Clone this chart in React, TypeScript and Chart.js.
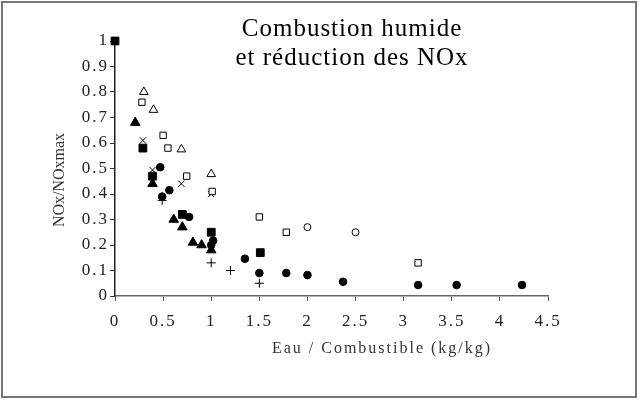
import React, { useEffect, useRef } from "react";
import { Chart, registerables } from "chart.js";

Chart.register(...registerables);

const titleLines = ["Combustion humide", "et réduction des NOx"];
const xTitle = "Eau / Combustible (kg/kg)";
const yTitle = "NOx/NOxmax";
const xTicks = [0, 0.5, 1, 1.5, 2, 2.5, 3, 3.5, 4, 4.5];
const yTicks = [0, 0.1, 0.2, 0.3, 0.4, 0.5, 0.6, 0.7, 0.8, 0.9, 1];

const filledSquareX = [0, 0.29, 0.39, 0.7, 1.0, 1.51];
const filledSquareY = [1.0, 0.58, 0.47, 0.32, 0.25, 0.17];

const openSquareX = [0.28, 0.5, 0.55, 0.745, 1.01, 1.5, 1.78, 3.15];
const openSquareY = [0.76, 0.63, 0.58, 0.47, 0.41, 0.31, 0.25, 0.13];

const openTriangleX = [0.3, 0.4, 0.69, 1.0];
const openTriangleY = [0.8, 0.73, 0.575, 0.478];

const filledTriangleX = [0.21, 0.39, 0.61, 0.7, 0.81, 0.9, 1.0];
const filledTriangleY = [0.68, 0.44, 0.3, 0.27, 0.21, 0.2, 0.18];

const xCrossX = [0.29, 0.39, 0.69, 1.0];
const xCrossY = [0.61, 0.494, 0.44, 0.4];

const plusX = [0.49, 1.0, 1.2, 1.5];
const plusY = [0.375, 0.13, 0.1, 0.05];

const filledCircleX = [0.47, 0.49, 0.565, 0.77, 1.02, 1.0, 1.35, 1.5, 1.78, 2.0, 2.37, 3.15, 3.55, 4.23];
const filledCircleY = [0.505, 0.39, 0.415, 0.31, 0.217, 0.2, 0.146, 0.09, 0.09, 0.082, 0.056, 0.043, 0.043, 0.043];

const openCircleX = [2.0, 2.5];
const openCircleY = [0.27, 0.25];

const pts = (xs: number[], ys: number[]) => xs.map((x, i) => ({ x, y: ys[i] }));

const FONT = "'Liberation Serif', 'Times New Roman', serif";

export default function App() {
  const ref = useRef<HTMLCanvasElement | null>(null);

  useEffect(() => {
    if (!ref.current) return;
    const decor = {
      id: "decor",
      beforeDraw(chart: any) {
        const ctx = chart.ctx;
        ctx.fillStyle = "#fff";
        ctx.fillRect(0, 0, chart.width, chart.height);
        (ctx as any).letterSpacing = "2px";
      },
      afterDraw(chart: any) {
        const ctx = chart.ctx;
        ctx.save();
        (ctx as any).letterSpacing = "1px";
        ctx.fillStyle = "#000";
        ctx.textAlign = "center";
        ctx.textBaseline = "middle";
        ctx.font = `25px ${FONT}`;
        ctx.fillText(titleLines[0], 352, 29);
        ctx.fillText(titleLines[1], 352, 58);
        (ctx as any).letterSpacing = "2px";
        ctx.font = `16px ${FONT}`;
        ctx.fillStyle = "#333";
        ctx.fillText(xTitle, 382, 349);
        (ctx as any).letterSpacing = "0px";
        ctx.save();
        ctx.translate(60, 180);
        ctx.rotate(-Math.PI / 2);
        ctx.fillText(yTitle, 0, 0);
        ctx.restore();
        ctx.strokeStyle = "#777";
        ctx.lineWidth = 2;
        ctx.strokeRect(2, 2, 634, 395);
        ctx.restore();
      },
    };

    const common = { showLine: false, clip: false as any, borderWidth: 1 };
    const chart = new Chart(ref.current, {
      type: "scatter",
      data: {
        datasets: [
          { ...common, label: "open square", data: pts(openSquareX, openSquareY), pointStyle: "rect", pointRadius: 4.5, backgroundColor: "#fff", borderColor: "#000" },
          { ...common, label: "open triangle", data: pts(openTriangleX, openTriangleY), pointStyle: "triangle", pointRadius: 5, backgroundColor: "#fff", borderColor: "#000" },
          { ...common, label: "open circle", data: pts(openCircleX, openCircleY), pointStyle: "circle", pointRadius: 3.5, backgroundColor: "#fff", borderColor: "#000" },
          { ...common, label: "x", data: pts(xCrossX, xCrossY), pointStyle: "crossRot", pointRadius: 4.5, backgroundColor: "#000", borderColor: "#000" },
          { ...common, label: "plus", data: pts(plusX, plusY), pointStyle: "cross", pointRadius: 4.5, backgroundColor: "#000", borderColor: "#000" },
          { ...common, label: "filled square", data: pts(filledSquareX, filledSquareY), pointStyle: "rect", pointRadius: 5.5, backgroundColor: "#000", borderColor: "#000" },
          { ...common, label: "filled triangle", data: pts(filledTriangleX, filledTriangleY), pointStyle: "triangle", pointRadius: 5.5, backgroundColor: "#000", borderColor: "#000" },
          { ...common, label: "filled circle", data: pts(filledCircleX, filledCircleY), pointStyle: "circle", pointRadius: 3.8, backgroundColor: "#000", borderColor: "#000" },
        ],
      },
      options: {
        responsive: false,
        animation: false,
        events: [],
        layout: { padding: { left: 0, top: 41, right: 92, bottom: 0 } },
        plugins: { legend: { display: false }, tooltip: { enabled: false }, title: { display: false } },
        scales: {
          x: {
            type: "linear",
            min: 0,
            max: 4.5,
            afterBuildTicks: (s: any) => { s.ticks = xTicks.map((value) => ({ value })); },
            afterFit: (s: any) => { s.height = 104; },
            grid: { drawOnChartArea: false, drawTicks: true, tickLength: 5, color: "#555" },
            border: { display: true, color: "#666", width: 1.5 },
            ticks: { font: { family: FONT, size: 17 }, color: "#222", padding: 10, maxRotation: 0, autoSkip: false, callback: (v: any) => String(Number(v)) },
          },
          y: {
            type: "linear",
            min: 0,
            max: 1,
            afterBuildTicks: (s: any) => { s.ticks = yTicks.map((value) => ({ value })); },
            afterFit: (s: any) => { s.width = 115; },
            grid: { drawOnChartArea: false, drawTicks: true, tickLength: 5, color: "#333" },
            border: { display: true, color: "#222", width: 1.5 },
            ticks: { font: { family: FONT, size: 17 }, color: "#222", padding: 1, autoSkip: false, callback: (v: any) => String(Number(v)) },
          },
        },
      },
      plugins: [decor],
    });
    return () => chart.destroy();
  }, []);

  return (
    <div style={{ position: "fixed", left: 0, top: 0, width: 640, height: 400 }}>
      <canvas ref={ref} width={640} height={400} style={{ display: "block" }} />
    </div>
  );
}
